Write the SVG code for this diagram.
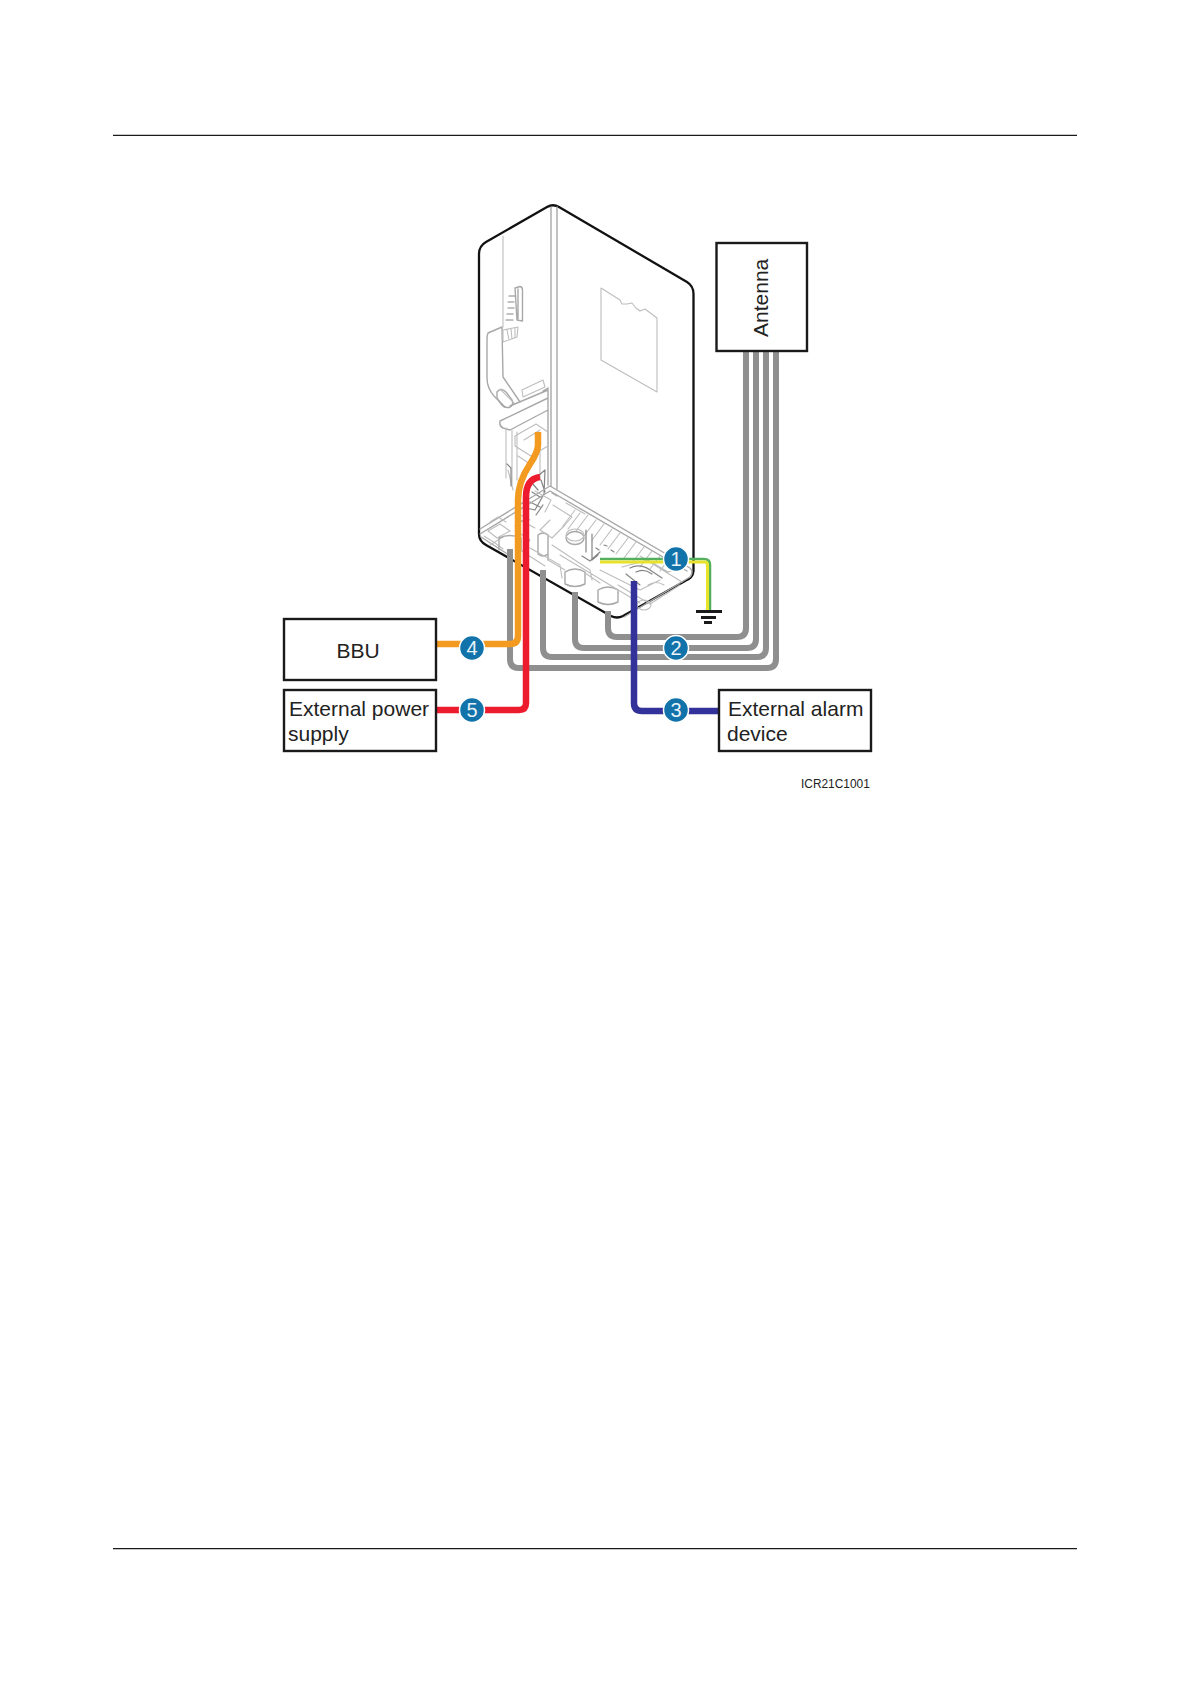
<svg xmlns="http://www.w3.org/2000/svg" width="1191" height="1684" viewBox="0 0 1191 1684">
<style>
text{font-family:"Liberation Sans",Arial,sans-serif;fill:#222}
.lbl{font-size:21px}
.num{font-size:20px;fill:#e8f2f8;text-anchor:middle}
.box{fill:#fff;stroke:#1a1a1a;stroke-width:2.4}
.thin{fill:none;stroke:#bdbdbd;stroke-width:1.1;stroke-linejoin:round;stroke-linecap:round}
.mid{fill:none;stroke:#a8a8a8;stroke-width:1.4;stroke-linejoin:round;stroke-linecap:round}
.dark{fill:none;stroke:#858585;stroke-width:1.2;stroke-linejoin:round;stroke-linecap:round}
.cable{fill:none;stroke-linejoin:round;stroke-linecap:butt}
.gray{stroke:#8f8f8f;stroke-width:6}
.dot{fill:#1273ab;stroke:#fff;stroke-width:1.5}
</style>
<rect width="1191" height="1684" fill="#fff"/>
<g id="page-rules" stroke="#1a1a1a" stroke-width="1.3">
<line x1="113" y1="135.3" x2="1077" y2="135.3"/>
<line x1="113" y1="1548.6" x2="1077" y2="1548.6"/>
</g>
<g id="device">
<path d="M479 254Q479 246 486 242L547 207Q553 203.500 559 207L687 282Q693.500 286 693.500 294V571Q693 578 685 581L623 616Q617 619 611 616L486 545Q479 541 479 534Z" fill="#fff" stroke="#111" stroke-width="2.300"/>
<path class="mid" d="M551 207V486M557 207V489"/>
<path class="thin" d="M503 236V327"/>
<path class="thin" d="M601 288L620 300L622 304L627 304L632 303L636 308L640 311L645 309L657 318V392L601 360Z"/>
<path class="mid" d="M515 288L520 286.500Q522.500 287 522.500 290V321L517 320ZM518 289V319"/>
<path class="dark" d="M509 296H515M508 302H514M508 308H514M507 314H513M506 320H513"/>
<path class="mid" d="M502 327L488 333Q487 335 487 340V378Q487 388 494 396L505 407M502 328L503 377L520 402"/>
<path class="thin" d="M503 330L518 327L517 337L503 342ZM507 330L509 340M511 329L512 339M515 328L515 338"/>
<path class="mid" d="M497 392Q501 387 506 392L512 400Q514 405 510 407Q505 409 501 404L497 398Z"/>
<path class="thin" d="M500 389L515 404M522 390L543 380L545 387L523 397Z"/>
<path class="mid" d="M548 388V485M543 391L548 388M500 421Q499 426 503 428L510 430L548 410M500 421L548 398M510 406L548 390"/>
<path class="thin" d="M506 428V478M512 430V486M517 432V480M515 436L536 424L548 432V446L531 456L515 446ZM524 440L540 430M518 456L530 464M540 445V480M508 470L513 490"/>
<path class="dark" d="M507 464L511 468V486M538 476L545 470L544 494L535 510L526 508M532 492L540 497M530 502L540 507M541 480L545 492M536 515L543 505M532 483L538 490"/>
<g id="base-plate">
<path class="mid" d="M480 529L550 486L690 568Q694 572 690 577L624 617M480 534L550 491L687 571"/>
<path class="mid" d="M481 537L509 555M552 493L557 496"/>
<path class="thin" d="M488 531L500 524L510 531L497 538ZM490 545L503 537M515 512L530 520M535 491L551 500L545 512M553 505L572 517L562 528"/>
<path class="thin" d="M566 503L585 514M575 510L563 526M580 513L568 529M588 515L576 531M596 520L584 536M604 524L592 540M612 529L600 545M620 533L608 549M628 538L616 554M636 542L624 558M644 547L632 563M652 551L640 567M660 556L650 569M668 560L660 571"/>
<path class="thin" d="M490 522L498 517L506 522M484 536L495 543L503 549M515 526L525 519"/>
<path class="dark" d="M586 530V552M592 534V560L598 555M582 556L590 561L600 552M596 548l3 2M604 545l3 1M611 550l3 2"/>
<ellipse class="mid" cx="575" cy="538" rx="9" ry="6.500"/>
<ellipse class="thin" cx="575" cy="535" rx="9" ry="6"/>
<path class="mid" d="M499 538V550M521 538V550M499 538Q510 533 521 538"/>
<path class="mid" d="M538 535V554M548 535V560M538 535Q543 531 548 535M538 554Q543 558 548 554"/>
<path class="mid" d="M565 572Q575 566 585 572V584Q575 589 565 584ZM598 590Q608 584 618 590V602Q608 607 598 602Z"/>
<path class="thin" d="M552 545L590 570L592 580M530 548L560 565L562 578M585 573L600 583M560 555L640 603M618 585L650 604L680 585M600 570L640 590L660 580M622 567L648 560L668 572L680 568M640 556L682 582M648 585Q656 580 664 585M550 520L540 530L552 538L565 525M515 530L530 540L523 550M520 520L535 528M637 605a7 5 0 1 1 14 0a7 5 0 1 1 -14 0M520 550L545 566M548 560L565 570"/>
<path class="dark" d="M630 568Q640 563 650 570L662 578M636 572Q644 568 652 574M626 574L640 585"/>
</g>
</g>
<g id="connectors">
<path class="cable gray" d="M510 549V659Q510 668 519 668H767Q776 668 776 659V352"/>
<path class="cable gray" d="M543 570V648Q543 657 552 657H757Q766 657 766 648V352"/>
<path class="cable gray" d="M575 592V639Q575 648 584 648H747Q756 648 756 639V352"/>
<path class="cable gray" d="M608 611V628Q608 637 617 637H737Q746 637 746 628V352"/>
<path class="cable" d="M538 432V445Q538 452 530 464Q518 482 518 500V636Q518 644 510 644H436" stroke="#f39a20" stroke-width="6.500"/>
<path class="cable" d="M540 477Q526 479 526 497V703Q526 710 519 710H436" stroke="#ec1c2e" stroke-width="6.500"/>
<path class="cable" d="M634 581V703Q634 711 642 711H719" stroke="#33329a" stroke-width="6.500"/>
<path class="cable" d="M600 559H704Q710 559 710 565V610" stroke="#54b05c" stroke-width="2.500"/>
<path class="cable" d="M600 562H705Q707.500 562 707.500 565V610" stroke="#e6e32a" stroke-width="3"/>
</g>
<g id="ground" fill="#1a1a1a">
<rect x="696" y="610" width="26" height="3"/>
<rect x="701" y="616" width="15" height="3"/>
<rect x="704" y="621" width="8" height="3"/>
</g>
<g id="node-bbu"><rect class="box" x="284" y="619" width="152" height="61"/><text class="lbl" x="358" y="658" text-anchor="middle">BBU</text></g>
<g id="node-power"><rect class="box" x="284" y="690" width="152" height="61"/><text class="lbl" x="289" y="716">External power</text><text class="lbl" x="288" y="741">supply</text></g>
<g id="node-alarm"><rect class="box" x="719" y="690" width="152" height="61"/><text class="lbl" x="728" y="716">External alarm</text><text class="lbl" x="727" y="741">device</text></g>
<g id="node-antenna"><rect class="box" x="716.500" y="243" width="90.500" height="108"/><text class="lbl" transform="translate(768 337) rotate(-90)">Antenna</text></g>
<g id="callout-1"><circle class="dot" cx="676" cy="559" r="12.500"/><text class="num" x="676" y="566">1</text></g>
<g id="callout-2"><circle class="dot" cx="676" cy="648" r="12.500"/><text class="num" x="676" y="655">2</text></g>
<g id="callout-3"><circle class="dot" cx="676" cy="710" r="12.500"/><text class="num" x="676" y="717">3</text></g>
<g id="callout-4"><circle class="dot" cx="472" cy="648" r="12.500"/><text class="num" x="472" y="655">4</text></g>
<g id="callout-5"><circle class="dot" cx="472" cy="710" r="12.500"/><text class="num" x="472" y="717">5</text></g>
<text x="801" y="788" font-size="11.900">ICR21C1001</text>
</svg>
